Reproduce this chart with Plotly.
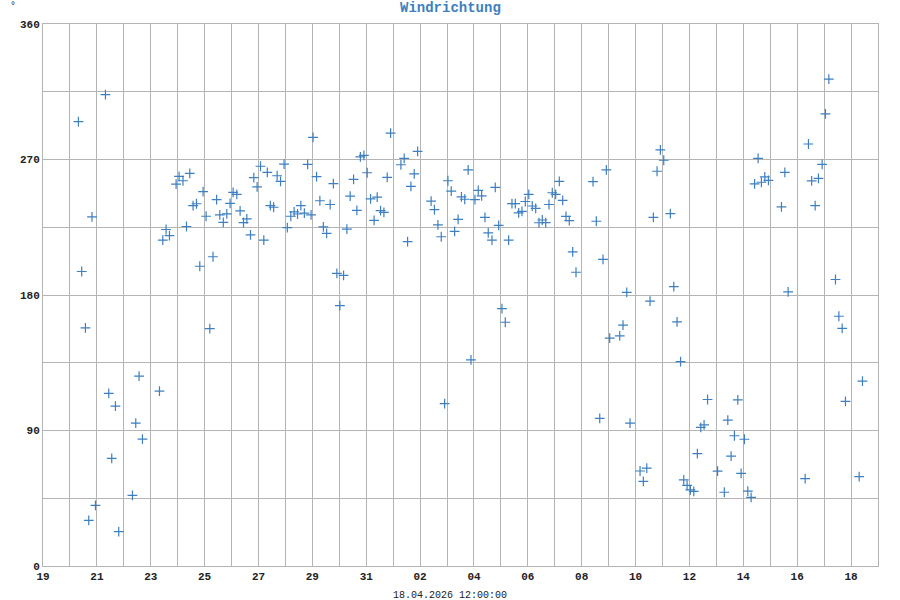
import pandas as pd
import plotly.graph_objects as go

# Start of the displayed period and day offsets of each reading
start_date = "2026-03-19"
day_offsets = [
    1.315, 1.438, 1.575, 1.698, 1.820, 1.947, 2.318, 2.441, 2.552, 2.689, 2.812,
    3.321, 3.444, 3.566, 3.692, 4.324, 4.447, 4.569, 4.695, 4.941, 5.052, 5.197,
    5.327, 5.449, 5.572, 5.698, 5.821, 5.944, 6.055, 6.193, 6.311, 6.445, 6.564,
    6.694, 6.824, 6.946, 7.058, 7.195, 7.318, 7.444, 7.567, 7.704, 7.827, 7.949,
    8.076, 8.198, 8.328, 8.440, 8.562, 8.692, 8.819, 8.949, 9.071, 9.201, 9.324,
    9.450, 9.573, 9.703, 9.825, 9.952, 10.026, 10.156, 10.279, 10.409, 10.531,
    10.661, 10.780, 10.910, 11.022, 11.159, 11.282, 11.404, 11.531, 11.653,
    11.783, 11.913, 12.036, 12.162, 12.292, 12.407, 12.533, 12.656, 12.779,
    12.905, 13.288, 13.410, 13.536, 13.659, 13.782, 13.908, 14.409, 14.532,
    14.662, 14.785, 14.911, 15.033, 15.156, 15.282, 15.412, 15.535, 15.658,
    15.784, 15.888, 16.036, 16.159, 16.285, 16.408, 16.530, 16.668, 16.790,
    16.917, 17.039, 17.162, 17.288, 17.411, 17.533, 17.660, 17.782, 17.905,
    18.035, 18.165, 18.291, 18.414, 18.536, 18.663, 18.785, 18.908, 19.034,
    19.168, 19.294, 19.417, 19.539, 19.666, 19.788, 20.420, 20.542, 20.669,
    20.791, 20.914, 21.040, 21.412, 21.534, 21.672, 21.794, 22.166, 22.288,
    22.415, 22.537, 22.660, 22.797, 22.920, 23.046, 23.291, 23.418, 23.540,
    23.670, 23.789, 23.912, 24.034, 24.161, 24.294, 24.421, 24.543, 24.673,
    25.045, 25.293, 25.424, 25.546, 25.669, 25.795, 25.918, 26.040, 26.167,
    26.289, 26.419, 26.549, 26.672, 26.798, 26.932, 27.415, 27.541, 27.664,
    28.295, 28.418, 28.537, 28.667, 28.789, 28.927, 29.049, 29.175, 29.421,
    29.547, 29.670, 29.792, 30.301, 30.423,
]
wind_direction = [
    295.1, 195.6, 158.2, 30.3, 231.9, 40.3, 313.1, 114.6, 71.5, 106.2, 22.8,
    46.9, 94.9, 126.1, 84.3, 116.1, 216.4, 223.5, 219.5, 253.7, 258.8, 255.9,
    225.5, 260.8, 239.4, 240.6, 199.1, 248.7, 232.3, 157.6, 205.4, 243.4, 233.2,
    228.3, 233.9, 240.9, 248.2, 246.8, 235.9, 228.1, 230.6, 220.0, 257.9, 251.8,
    265.5, 216.4, 261.5, 239.3, 238.3, 259.2, 255.5, 266.9, 224.7, 232.3, 235.2,
    233.8, 239.3, 234.4, 266.7, 233.2, 284.7, 258.6, 242.6, 225.3, 220.9,
    240.1, 254.0, 194.3, 173.0, 193.1, 223.7, 245.7, 256.8, 236.2,
    271.8, 272.7, 261.2, 243.9, 229.6, 245.0, 236.1, 234.9, 258.1,
    287.5, 266.5, 270.8, 215.5, 252.2, 260.5, 275.4, 242.4, 236.7,
    226.6, 218.7, 107.8, 255.9, 249.0, 222.3, 230.2, 245.2, 243.6,
    263.1, 136.9, 243.3, 249.5, 245.8, 231.6, 221.3, 216.5, 251.5,
    226.3, 171.0, 161.9, 216.5, 240.7, 240.7, 234.6, 235.6, 242.1,
    246.9, 239.1, 237.6, 228.0, 229.8, 228.1, 240.1, 247.9, 246.9,
    255.5, 242.9, 232.2, 229.4, 208.7, 195.1, 255.3, 229.0, 98.0,
    203.6, 263.1, 151.3, 152.9, 160.0, 181.7, 94.9, 63.1, 56.2,
    65.0, 175.9, 231.6, 262.2, 276.4, 269.5, 234.1, 185.6, 162.2,
    135.7, 57.2, 53.6, 50.6, 49.6, 74.6, 92.1, 93.8, 110.6,
    63.0, 49.0, 96.9, 73.0, 86.5, 110.3, 61.5, 84.2, 49.7,
    45.6, 253.8, 270.7, 254.9, 258.4, 256.1, 238.5, 261.5, 182.1,
    58.0, 280.3, 255.8, 239.4, 257.5, 266.7, 300.3, 323.4, 190.3,
    165.9, 157.8, 109.3, 59.3, 122.8,
]

title_text = "Windrichtung"
x_title_text = "18.04.2026 12:00:00"
unit_text = "°"
x_range = ["2026-03-19 00:00", "2026-04-19 00:00"]
y_range = [0, 360]

times = pd.Timestamp(start_date) + pd.to_timedelta(day_offsets, unit="D")

blue = "#3d7fc0"
grid = "#b4b4b4"
mono = "Liberation Mono, DejaVu Sans Mono, monospace"

fig = go.Figure()
fig.add_trace(go.Scatter(
    x=times, y=wind_direction, mode="markers",
    marker=dict(symbol="cross-thin", size=7, color=blue,
                line=dict(width=1.2, color=blue)),
    hoverinfo="x+y", showlegend=False,
))

L, R, T, B = 43, 22, 24, 34
W, H = 900, 600
pw, ph = W - L - R, H - T - B

fig.update_layout(
    width=W, height=H,
    margin=dict(l=L, r=R, t=T, b=B, pad=0),
    paper_bgcolor="white", plot_bgcolor="white",
    font=dict(family=mono, size=11, color="#222222"),
)
fig.update_xaxes(
    type="date", range=x_range,
    tick0="2026-03-19", dtick=2 * 86400000, tickformat="%d",
    showgrid=True, gridcolor=grid, gridwidth=1,
    minor=dict(dtick=86400000, tick0="2026-03-19", showgrid=True, gridcolor=grid, gridwidth=1),
    showline=True, linecolor=grid, linewidth=1, mirror=True,
    ticks="", ticklen=0,
    tickfont=dict(family=mono, size=11, color="#222222", weight="bold"),
    zeroline=False,
)
fig.update_yaxes(
    range=y_range, dtick=90, tick0=0,
    showgrid=True, gridcolor=grid, gridwidth=1,
    minor=dict(dtick=45, showgrid=True, gridcolor=grid, gridwidth=1),
    showline=True, linecolor=grid, linewidth=1, mirror=True,
    ticks="", ticklen=0,
    tickfont=dict(family=mono, size=11, color="#222222", weight="bold"),
    zeroline=False,
)

fig.add_annotation(
    text=title_text, xref="paper", yref="paper",
    x=(450 - L) / pw, y=1, yshift=T - 8, yanchor="middle", xanchor="center",
    showarrow=False,
    font=dict(family=mono, size=14, color=blue, weight="bold"),
)
fig.add_annotation(
    text=x_title_text, xref="paper", yref="paper",
    x=(450 - L) / pw, y=0, yshift=-(595 - (H - B)), yanchor="middle", xanchor="center",
    showarrow=False,
    font=dict(family=mono, size=10, color="#222222"),
)
fig.add_annotation(
    text=unit_text, xref="paper", yref="paper",
    x=(13 - L) / pw, y=1, yshift=T - 6, yanchor="middle", xanchor="center",
    showarrow=False,
    font=dict(family=mono, size=10, color="#222222"),
)

fig.write_html(
    "out.html",
    config={"displayModeBar": False},
    post_script="document.body.style.margin='0';document.body.style.overflow='hidden';",
)
